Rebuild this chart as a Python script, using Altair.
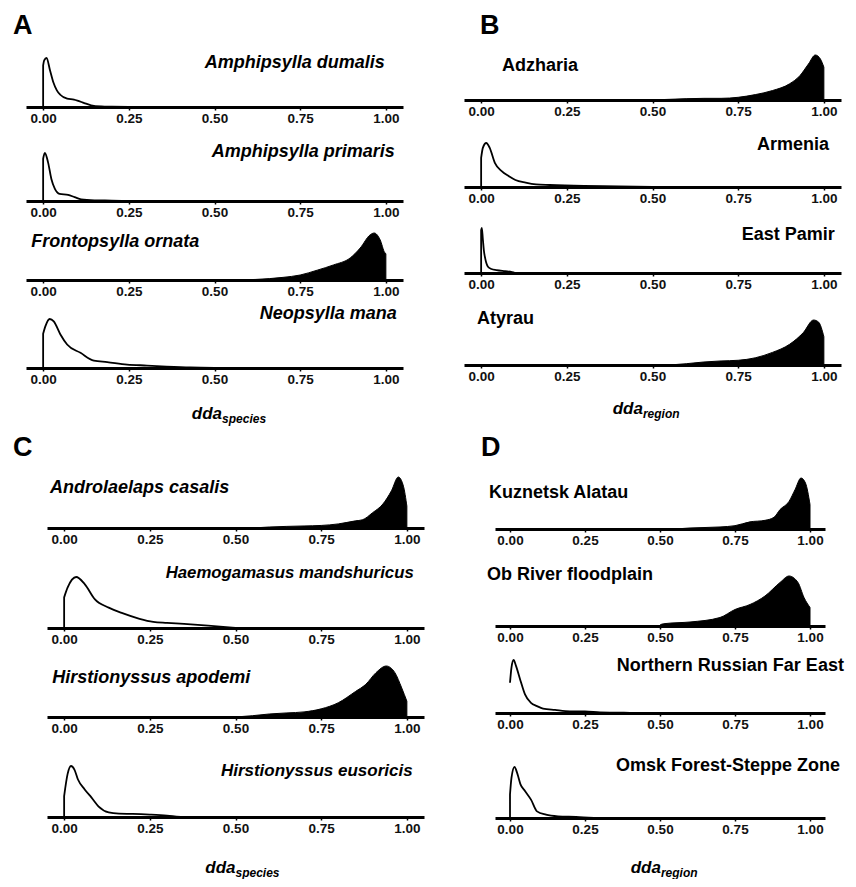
import altair as alt
import pandas as pd

# ---------------- data (y = density relative to each curve's peak) ----------------
dumalis_x = [0, 0.003, 0.01, 0.02, 0.03, 0.04, 0.05, 0.07, 0.09, 0.10, 0.12, 0.14, 0.17, 0.20, 0.25]
dumalis_y = [0.85, 0.95, 1.0, 0.75, 0.5, 0.34, 0.25, 0.17, 0.15, 0.13, 0.08, 0.035, 0.012, 0.006, 0.0]
primaris_x = [0, 0.005, 0.0145, 0.024, 0.034, 0.048, 0.073, 0.092, 0.111, 0.15, 0.20, 0.247]
primaris_y = [0.88, 1.0, 0.8, 0.46, 0.26, 0.15, 0.13, 0.08, 0.035, 0.014, 0.008, 0.0]
ornata_x = [0.55, 0.62, 0.70, 0.75, 0.80, 0.847, 0.896, 0.925, 0.954, 0.966, 0.983, 0.997, 1.0]
ornata_y = [0.0, 0.012, 0.056, 0.106, 0.21, 0.32, 0.47, 0.68, 0.96, 1.0, 0.86, 0.58, 0.56]
mana_x = [0, 0.007, 0.019, 0.031, 0.05, 0.07, 0.109, 0.148, 0.187, 0.245, 0.303, 0.36, 0.43, 0.50]
mana_y = [0.70, 0.86, 1.0, 0.95, 0.69, 0.48, 0.31, 0.15, 0.12, 0.07, 0.05, 0.03, 0.01, 0.0]

adzharia_x = [0.25, 0.50, 0.55, 0.65, 0.70, 0.75, 0.80, 0.85, 0.90, 0.93, 0.955, 0.975, 0.99, 1.0]
adzharia_y = [0.0, 0.004, 0.015, 0.037, 0.037, 0.06, 0.12, 0.21, 0.36, 0.54, 0.80, 1.0, 0.91, 0.73]
armenia_x = [0, 0.005, 0.015, 0.025, 0.04, 0.06, 0.08, 0.10, 0.13, 0.16, 0.20, 0.30, 0.40, 0.50]
armenia_y = [0.66, 0.89, 1.0, 0.89, 0.55, 0.36, 0.25, 0.16, 0.10, 0.06, 0.045, 0.023, 0.015, 0.0]
pamir_x = [0, 0.002, 0.005, 0.008, 0.012, 0.02, 0.03, 0.045, 0.07, 0.09, 0.10]
pamir_y = [0.95, 1.0, 0.75, 0.5, 0.32, 0.14, 0.09, 0.065, 0.04, 0.02, 0.0]
atyrau_x = [0.55, 0.60, 0.65, 0.70, 0.75, 0.80, 0.85, 0.90, 0.94, 0.97, 0.985, 1.0]
atyrau_y = [0.0, 0.03, 0.067, 0.09, 0.105, 0.16, 0.28, 0.46, 0.72, 1.0, 0.95, 0.63]

casalis_x = [0.55, 0.60, 0.70, 0.75, 0.80, 0.85, 0.87, 0.90, 0.93, 0.955, 0.975, 0.99, 1.0]
casalis_y = [0.0, 0.02, 0.04, 0.05, 0.08, 0.14, 0.16, 0.30, 0.47, 0.73, 1.0, 0.82, 0.43]
mandsh_x = [0, 0.01, 0.035, 0.06, 0.09, 0.13, 0.17, 0.22, 0.26, 0.30, 0.35, 0.42, 0.50]
mandsh_y = [0.60, 0.79, 1.0, 0.86, 0.56, 0.40, 0.29, 0.18, 0.12, 0.10, 0.08, 0.045, 0.0]
apodemi_x = [0.50, 0.55, 0.60, 0.65, 0.70, 0.75, 0.80, 0.85, 0.88, 0.91, 0.94, 0.965, 0.985, 1.0]
apodemi_y = [0.0, 0.026, 0.06, 0.08, 0.10, 0.16, 0.28, 0.50, 0.64, 0.87, 1.0, 0.87, 0.57, 0.31]
eusoricis_x = [0, 0.01, 0.02, 0.03, 0.04, 0.06, 0.08, 0.10, 0.13, 0.16, 0.20, 0.25, 0.30, 0.34]
eusoricis_y = [0.41, 0.84, 1.0, 0.93, 0.74, 0.54, 0.38, 0.21, 0.09, 0.066, 0.06, 0.046, 0.026, 0.0]

kuz_x = [0.55, 0.60, 0.70, 0.75, 0.80, 0.85, 0.88, 0.90, 0.93, 0.95, 0.97, 0.985, 1.0]
kuz_y = [0.0, 0.02, 0.04, 0.065, 0.14, 0.17, 0.23, 0.38, 0.54, 0.77, 1.0, 0.9, 0.48]
ob_x = [0.50, 0.502, 0.52, 0.60, 0.70, 0.75, 0.80, 0.85, 0.90, 0.93, 0.96, 0.98, 1.0]
ob_y = [0.0, 0.03, 0.05, 0.08, 0.17, 0.33, 0.43, 0.60, 0.87, 1.0, 0.87, 0.57, 0.37]
nrfe_x = [0, 0.005, 0.012, 0.02, 0.035, 0.05, 0.07, 0.09, 0.11, 0.15, 0.20, 0.25, 0.30, 0.40, 0.50]
nrfe_y = [0.57, 0.86, 1.0, 0.89, 0.61, 0.35, 0.19, 0.13, 0.083, 0.057, 0.032, 0.032, 0.013, 0.004, 0.0]
omsk_x = [0, 0.005, 0.015, 0.025, 0.035, 0.05, 0.07, 0.09, 0.12, 0.16, 0.22, 0.28]
omsk_y = [0.46, 0.79, 1.0, 0.86, 0.66, 0.53, 0.36, 0.13, 0.066, 0.033, 0.02, 0.0]

tick_values = [0, 0.25, 0.5, 0.75, 1.0]

# ---------------- styling ----------------
FONT = "Liberation Sans"
X_DOMAIN = [-0.05, 1.05]
LETTER_SIZE = 27
LABEL_SIZE = 18


def make_axis():
    return alt.Axis(values=tick_values, format=".2f", title=None, grid=False,
                    domainWidth=3, domainColor="black", tickColor="black",
                    tickWidth=1.5, tickSize=3, labelPadding=1, labelFont=FONT,
                    labelFontSize=13.5, labelFontWeight="bold", labelColor="#111",
                    labelFlush=False, labelOverlap=False)


def letter_mark(letter, pos):
    one = pd.DataFrame({"a": [0]})
    return alt.Chart(one).mark_text(
        align="left", baseline="alphabetic", font=FONT, fontSize=LETTER_SIZE,
        fontWeight="bold", color="black", text=letter
    ).encode(x=alt.value(pos[0]), y=alt.value(pos[1]))


def subplot(xs, ys, filled, label, lx, l_px, align, italic, H, peak_px, width,
            kind="area", letter=None, letter_pos=None, title=None, label_size=LABEL_SIZE):
    xsc = alt.Scale(domain=X_DOMAIN, nice=False, zero=False)
    ymax = H / peak_px
    ysc = alt.Scale(domain=[0, ymax], nice=False, zero=True)
    df = pd.DataFrame({"x": xs, "y": ys})
    base = alt.Chart(df)
    if kind == "area":
        mark = base.mark_area(interpolate="monotone",
                              fill="black" if filled else "white",
                              stroke="black", strokeWidth=1 if filled else 1.8,
                              strokeJoin="round")
    else:
        mark = base.mark_line(interpolate="monotone", color="black", strokeWidth=1.8)
    curve = mark.encode(
        x=alt.X("x:Q", scale=xsc, axis=make_axis()),
        y=alt.Y("y:Q", scale=ysc, axis=None),
    )
    ldf = pd.DataFrame({"x": [lx], "y": [l_px / peak_px], "t": [label]})
    lab = alt.Chart(ldf).mark_text(
        align=align, baseline="alphabetic", font=FONT, fontSize=label_size,
        fontWeight="bold", fontStyle="italic" if italic else "normal", color="black"
    ).encode(x=alt.X("x:Q", scale=xsc, axis=make_axis()),
             y=alt.Y("y:Q", scale=ysc, axis=None), text="t:N")
    layers = [curve, lab]
    one = pd.DataFrame({"a": [0]})
    if letter is not None:
        layers.append(letter_mark(letter, letter_pos))
    if title is not None:
        tx, tdy, sub = title
        layers.append(alt.Chart(one).mark_text(
            align="right", baseline="alphabetic", font=FONT, fontSize=17,
            fontWeight="bold", fontStyle="italic", color="black", text="dda"
        ).encode(x=alt.datum(tx, scale=xsc), y=alt.value(H + tdy)))
        layers.append(alt.Chart(one).mark_text(
            align="left", baseline="alphabetic", font=FONT, fontSize=12,
            fontWeight="bold", fontStyle="italic", color="black", text=sub
        ).encode(x=alt.datum(tx, scale=xsc), y=alt.value(H + tdy + 4)))
    return alt.layer(*layers).properties(width=width, height=H)


# ---------------- panel A ----------------
A = alt.vconcat(
    subplot(dumalis_x, dumalis_y, False, "Amphipsylla dumalis", 0.997, 39, "right", True, 66, 49, 377,
            letter="A", letter_pos=(-13, -7)),
    subplot(primaris_x, primaris_y, False, "Amphipsylla primaris", 1.026, 44, "right", True, 94, 48, 377),
    subplot(ornata_x, ornata_y, True, "Frontopsylla ornata", -0.035, 33, "left", True, 79, 47, 377),
    subplot(mana_x, mana_y, False, "Neopsylla mana", 1.032, 49, "right", True, 88, 49, 377,
            title=(0.522, 51, "species")),
    spacing=0, bounds="flush")

# ---------------- panel B ----------------
B = alt.vconcat(
    subplot(adzharia_x, adzharia_y, True, "Adzharia", 0.061, 29, "left", False, 59, 45, 377,
            letter="B", letter_pos=(16, -7)),
    subplot(armenia_x, armenia_y, False, "Armenia", 1.015, 37, "right", False, 87, 44, 377),
    subplot(pamir_x, pamir_y, False, "East Pamir", 1.032, 33, "right", False, 86, 45, 377),
    subplot(atyrau_x, atyrau_y, True, "Atyrau", -0.012, 41, "left", False, 92, 45, 377,
            title=(0.472, 49, "region")),
    spacing=0, bounds="flush")

# ---------------- panel C ----------------
C = alt.vconcat(
    subplot(casalis_x, casalis_y, True, "Androlaelaps casalis", -0.041, 35, "left", True, 67, 51, 377),
    subplot(mandsh_x, mandsh_y, False, "Haemogamasus mandshuricus", 1.02, 50, "right", True, 100, 51, 377,
            label_size=16.8),
    subplot(apodemi_x, apodemi_y, True, "Hirstionyssus apodemi", -0.035, 34, "left", True, 89, 51, 377),
    subplot(eusoricis_x, eusoricis_y, False, "Hirstionyssus eusoricis", 1.017, 41, "right", True, 100, 51, 377,
            title=(0.50, 56, "species"), label_size=17),
    spacing=0, bounds="flush")

# ---------------- panel D ----------------
D = alt.vconcat(
    subplot(kuz_x, kuz_y, True, "Kuznetsk Alatau", -0.07, 31, "left", False, 68, 51, 330,
            letter="D", letter_pos=(-14, -5)),
    subplot(ob_x, ob_y, True, "Ob River floodplain", -0.077, 46, "left", False, 97, 50, 330),
    subplot(nrfe_x, nrfe_y, False, "Northern Russian Far East", 1.113, 42, "right", False, 87, 53, 330,
            kind="line"),
    subplot(omsk_x, omsk_y, False, "Omsk Forest-Steppe Zone", 1.10, 47, "right", False, 105, 51, 330,
            title=(0.503, 55, "region")),
    spacing=0, bounds="flush")

# panel letter C lives in a narrow holder so that panel C can sit further right than panel A
letterC = letter_mark("C", (-13, -5)).properties(width=21, height=10)

rowAB = alt.hconcat(A, B, spacing=61)
rowCD = alt.hconcat(letterC, alt.hconcat(C, D, spacing=57), spacing=0)

chart = alt.vconcat(rowAB, rowCD, spacing=9).properties(
    padding={"left": 5, "top": 4, "right": 2, "bottom": 0}
).configure_view(strokeWidth=0)

chart.save("out.html", embed_options={"renderer": "svg", "actions": False})
